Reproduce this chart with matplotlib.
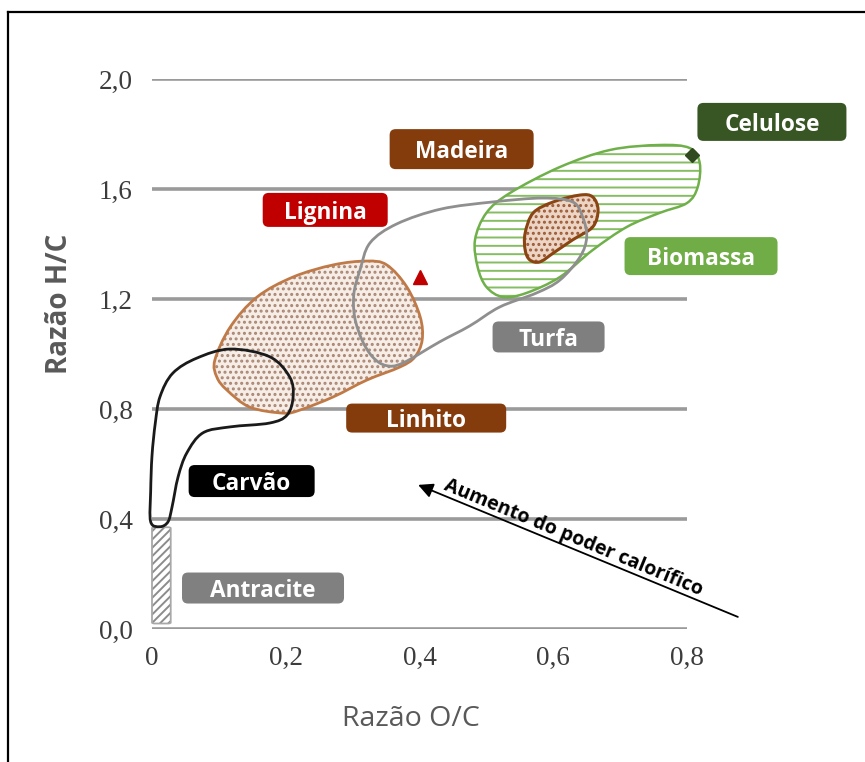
import numpy as np
import matplotlib
matplotlib.use("Agg")
import matplotlib.pyplot as plt
from matplotlib.path import Path
from matplotlib.patches import PathPatch, FancyBboxPatch
from matplotlib.lines import Line2D
import matplotlib.transforms as mtransforms

plt.rcParams['font.family'] = ['Open Sans', 'DejaVu Sans']
plt.rcParams['hatch.linewidth'] = 1.4

# ---------------- data ----------------
x_ticks = [0.0, 0.2, 0.4, 0.6, 0.8]
x_ticklabels = ["0", "0,2", "0,4", "0,6", "0,8"]
y_ticks = [0.0, 0.4, 0.8, 1.2, 1.6, 2.0]
y_ticklabels = ["0,0", "0,4", "0,8", "1,2", "1,6", "2,0"]

# Region outlines (O/C, H/C)
antracite_x = [0.0, 0.028]
antracite_y = [0.02, 0.37]

carvao_x = [-0.002, -0.002, 0.0, 0.005, 0.012, 0.031, 0.067, 0.117, 0.176, 0.206,
            0.211, 0.202, 0.176, 0.117, 0.076, 0.052, 0.039, 0.030, 0.024, 0.012]
carvao_y = [0.39, 0.50, 0.63, 0.75, 0.845, 0.93, 0.985, 1.018, 0.99, 0.916,
            0.844, 0.778, 0.749, 0.735, 0.713, 0.64, 0.553, 0.444, 0.39, 0.372]

linhito_x = [0.094, 0.117, 0.157, 0.211, 0.271, 0.321, 0.351, 0.381, 0.401, 0.404,
             0.393, 0.371, 0.321, 0.271, 0.221, 0.196, 0.146, 0.112, 0.097]
linhito_y = [0.978, 1.098, 1.207, 1.28, 1.324, 1.338, 1.324, 1.244, 1.135, 1.051,
             0.989, 0.953, 0.905, 0.844, 0.796, 0.785, 0.807, 0.869, 0.916]

turfa_x = [0.326, 0.366, 0.432, 0.51, 0.584, 0.629, 0.644, 0.65, 0.64, 0.61,
           0.575, 0.52, 0.475, 0.43, 0.375, 0.350, 0.33, 0.314, 0.303, 0.302, 0.311]
turfa_y = [1.404, 1.473, 1.527, 1.553, 1.567, 1.553, 1.498, 1.425, 1.353, 1.269,
           1.222, 1.171, 1.102, 1.044, 0.967, 0.958, 0.989, 1.051, 1.135, 1.222, 1.305]

biomassa_x = [0.483, 0.50, 0.535, 0.61, 0.685, 0.759, 0.804, 0.819, 0.816, 0.80,
              0.759, 0.71, 0.659, 0.61, 0.56, 0.525, 0.50, 0.487]
biomassa_y = [1.415, 1.513, 1.585, 1.68, 1.742, 1.76, 1.749, 1.695, 1.607, 1.549,
              1.513, 1.462, 1.378, 1.28, 1.222, 1.207, 1.244, 1.316]

madeira_x = [0.558, 0.57, 0.60, 0.64, 0.659, 0.667, 0.659, 0.629, 0.60, 0.58, 0.565, 0.558]
madeira_y = [1.44, 1.513, 1.553, 1.578, 1.571, 1.524, 1.462, 1.415, 1.367, 1.335, 1.342, 1.378]

lignina_pt = (0.401, 1.28)
celulose_pt = (0.808, 1.724)

# Labels
labels = ["Celulose", "Madeira", "Lignina", "Biomassa", "Turfa", "Linhito", "Carvão", "Antracite"]
label_x = [0.927, 0.463, 0.259, 0.821, 0.593, 0.410, 0.149, 0.166]
label_y = [1.844, 1.745, 1.524, 1.356, 1.062, 0.767, 0.538, 0.149]
label_colors = ["#375623", "#843c0c", "#c00000", "#70ad47", "#7f7f7f", "#843c0c", "#000000", "#808080"]
box_w_px = [149, 144, 125, 153, 112, 160, 126, 162]
box_h_px = [38, 40, 34, 38, 31, 29, 32, 31]

arrow_tail = (0.876, 0.044)
arrow_tip = (0.398, 0.524)
arrow_text = "Aumento do poder calorífico"
arrow_text_pos = (0.630, 0.333)

# ---------------- figure ----------------
W, H, DPI = 865, 762, 100
fig = plt.figure(figsize=(W / DPI, H / DPI), dpi=DPI)
fig.patch.set_facecolor("white")
ax = fig.add_axes([152 / W, (H - 629) / H, 535 / W, 550 / H])
ax.set_xlim(0, 0.8)
ax.set_ylim(0, 2.0)
for s in ax.spines.values():
    s.set_visible(False)
ax.set_facecolor("none")

ax.set_xticks(x_ticks)
ax.set_xticklabels(x_ticklabels)
ax.set_yticks(y_ticks)
ax.set_yticklabels(y_ticklabels)
ax.tick_params(axis="both", length=0, labelsize=19.5, labelcolor="#3c3c3c")
ax.tick_params(axis="x", pad=12)
ax.tick_params(axis="y", pad=14)
for lab in ax.get_xticklabels() + ax.get_yticklabels():
    lab.set_fontfamily("Liberation Serif")
ax.yaxis.grid(True, color="#9a9a9a", linewidth=2.6, zorder=0)
ax.set_axisbelow(True)

ax.set_ylabel("Razão H/C", fontsize=20, fontweight="bold", color="#595959")
ax.yaxis.set_label_coords((74 - 152) / 535, (629 - 304) / 550)
ax.set_xlabel("Razão O/C", fontsize=20.5, color="#595959")
ax.xaxis.set_label_coords((411 - 152) / 535, (629 - 705) / 550)


def smooth_path(xs, ys):
    P = np.column_stack([xs, ys]).astype(float)
    n = len(P)
    verts = [P[0]]
    codes = [Path.MOVETO]
    for i in range(n):
        p0, p1, p2, p3 = P[i - 1], P[i], P[(i + 1) % n], P[(i + 2) % n]
        verts += [p1 + (p2 - p0) / 6.0, p2 - (p3 - p1) / 6.0, p2]
        codes += [Path.CURVE4] * 3
    verts.append(P[0])
    codes.append(Path.CLOSEPOLY)
    return Path(verts, codes)


def add(path, **kw):
    ax.add_patch(PathPatch(path, clip_on=False, **kw))


def region_fill(xs, ys, z, fill, hatch, hatch_color):
    p = smooth_path(xs, ys)
    add(p, facecolor=fill, edgecolor="none", lw=0, zorder=z)
    add(p, facecolor="none", edgecolor=hatch_color, lw=0, hatch=hatch, zorder=z + 0.01)


# Antracite (hatched bar)
ant_kw = dict(boxstyle="round,pad=0,rounding_size=0.004", clip_on=False)
ax.add_patch(FancyBboxPatch((antracite_x[0], antracite_y[0]), antracite_x[1] - antracite_x[0],
                            antracite_y[1] - antracite_y[0], facecolor="white",
                            edgecolor="#8c8c8c", hatch="////", lw=0, zorder=2, **ant_kw))
ax.add_patch(FancyBboxPatch((antracite_x[0], antracite_y[0]), antracite_x[1] - antracite_x[0],
                            antracite_y[1] - antracite_y[0], facecolor="none",
                            edgecolor="#a8a8a8", lw=1.3, zorder=2.1, **ant_kw))

# fills
region_fill(linhito_x, linhito_y, 2, "#f6ede6", "...", "#a98572")
region_fill(biomassa_x, biomassa_y, 2.2, "white", "--", "#86bd62")
region_fill(madeira_x, madeira_y, 2.4, "#edd5c5", "...", "#9c5a36")

# outlines
add(smooth_path(linhito_x, linhito_y), facecolor="none", edgecolor="#c07a48", lw=2.0, zorder=3)
add(smooth_path(biomassa_x, biomassa_y), facecolor="none", edgecolor="#6fb04a", lw=1.8, zorder=3)
add(smooth_path(madeira_x, madeira_y), facecolor="none", edgecolor="#8b4513", lw=2.2, zorder=3.1)
add(smooth_path(carvao_x, carvao_y), facecolor="none", edgecolor="#1a1a1a", lw=2.0, zorder=3.2)
add(smooth_path(turfa_x, turfa_y), facecolor="none", edgecolor="#8f8f8f", lw=2.0, zorder=3.3)

# markers
ax.plot([lignina_pt[0]], [lignina_pt[1]], marker="^", color="#c00000", ms=10, zorder=4, clip_on=False)
ax.plot([celulose_pt[0]], [celulose_pt[1]], marker="D", color="#2e4a1e", ms=7, zorder=4, clip_on=False)

# label boxes
for lab, cx, cy, col, bw, bh in zip(labels, label_x, label_y, label_colors, box_w_px, box_h_px):
    tr = fig.dpi_scale_trans + mtransforms.ScaledTranslation(cx, cy, ax.transData)
    w, h = bw / DPI, bh / DPI
    box = FancyBboxPatch((-w / 2, -h / 2), w, h, boxstyle="round,pad=0,rounding_size=0.06",
                         facecolor=col, edgecolor="none", transform=tr, zorder=5, clip_on=False)
    ax.add_patch(box)
    ax.text(cx, cy, lab, ha="center", va="center_baseline", color="white", fontsize=16.3,
            fontweight="bold", zorder=6, clip_on=False)

# arrow
ax.annotate("", xy=arrow_tip, xytext=arrow_tail,
            arrowprops=dict(arrowstyle="-|>", color="black", lw=1.3, mutation_scale=22,
                            shrinkA=0, shrinkB=0), zorder=5)
p_tail = ax.transData.transform(arrow_tail)
p_tip = ax.transData.transform(arrow_tip)
ang = np.degrees(np.arctan2(p_tail[1] - p_tip[1], p_tail[0] - p_tip[0]))
ax.text(arrow_text_pos[0], arrow_text_pos[1], arrow_text, rotation=ang, rotation_mode="anchor",
        ha="center", va="center", fontsize=14, fontweight="bold", color="black", zorder=6)

# frame lines (top and left)
fig.add_artist(Line2D([8 / W, 1], [1 - 12 / H, 1 - 12 / H], transform=fig.transFigure,
                      color="black", lw=1.6))
fig.add_artist(Line2D([8 / W, 8 / W], [0, 1 - 12 / H], transform=fig.transFigure,
                      color="black", lw=1.6))

fig.savefig("out.png", dpi=DPI, facecolor="white")
